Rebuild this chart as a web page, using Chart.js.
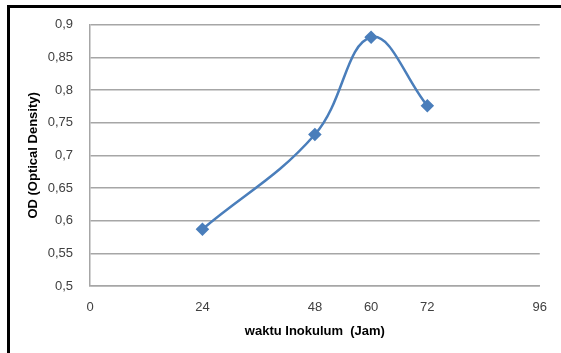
<!DOCTYPE html>
<html>
<head>
<meta charset="utf-8">
<script src="https://cdn.jsdelivr.net/npm/chart.js@4"></script>
<style>
  html, body { margin: 0; padding: 0; background: #fff; }
  #wrap { position: relative; width: 561px; height: 353px; }
</style>
</head>
<body>
<div id="wrap"><canvas id="chart" width="561" height="353"></canvas></div>
<script>
const hours = [24, 48, 60, 72];
const odValues = [0.587, 0.732, 0.881, 0.776];
const xTicks = [0, 24, 48, 60, 72, 96];
const yTicks = [0.5, 0.55, 0.6, 0.65, 0.7, 0.75, 0.8, 0.85, 0.9];

const gridGray = '#a6a6a6';
const textGray = '#404040';
const font = "'Liberation Sans', 'Open Sans', sans-serif";

// black frame lines at top and left, like the cropped Excel chart border
const framePlugin = {
  id: 'frame',
  beforeDraw(chart) {
    const ctx = chart.ctx;
    ctx.save();
    ctx.fillStyle = '#fff';
    ctx.fillRect(0, 0, chart.width, chart.height);
    ctx.strokeStyle = '#000';
    ctx.lineWidth = 3;
    ctx.beginPath();
    ctx.moveTo(8.5, chart.height);
    ctx.lineTo(8.5, 6.5);
    ctx.lineTo(chart.width, 6.5);
    ctx.stroke();
    ctx.restore();
  }
};

const ctx = document.getElementById('chart').getContext('2d');
new Chart(ctx, {
  type: 'line',
  data: {
    datasets: [{
      label: 'OD',
      data: hours.map((h, i) => ({ x: h, y: odValues[i] })),
      borderColor: '#4a7ebb',
      backgroundColor: '#4a7ebb',
      borderWidth: 2.5,
      tension: 0.4,
      pointStyle: 'rectRot',
      pointRadius: 5,
      pointHoverRadius: 5,
      fill: false
    }]
  },
  options: {
    responsive: false,
    animation: false,
    events: [],
    layout: { padding: { left: 0, top: 23, right: 17, bottom: 0 } },
    plugins: {
      legend: { display: false },
      tooltip: { enabled: false }
    },
    scales: {
      x: {
        type: 'linear',
        min: 0,
        max: 96,
        afterBuildTicks: (scale) => { scale.ticks = xTicks.map(v => ({ value: v })); },
        afterFit: (scale) => { scale.height = 67; },
        grid: { display: false, drawTicks: false },
        border: { display: true, color: gridGray, width: 1.5 },
        ticks: {
          padding: 14,
          color: textGray,
          font: { family: font, size: 13 },
          maxRotation: 0,
          autoSkip: false
        },
        title: {
          display: true,
          text: 'waktu Inokulum  (Jam)',
          color: '#000',
          font: { family: font, size: 13, weight: 'bold' },
          padding: { top: 0, bottom: 14 }
        }
      },
      y: {
        min: 0.5,
        max: 0.9,
        afterBuildTicks: (scale) => { scale.ticks = yTicks.map(v => ({ value: v })); },
        afterFit: (scale) => { scale.width = 90; },
        grid: { color: gridGray, lineWidth: 1.5, drawTicks: false },
        border: { display: true, color: gridGray, width: 1.5 },
        ticks: {
          padding: 17,
          color: textGray,
          font: { family: font, size: 13 },
          callback: (v) => String(Math.round(v * 100) / 100).replace('.', ',')
        },
        title: {
          display: true,
          text: 'OD (Optical Density)',
          color: '#000',
          font: { family: font, size: 13, weight: 'bold' },
          padding: { top: 26, bottom: 0 }
        }
      }
    }
  },
  plugins: [framePlugin]
});
</script>
</body>
</html>
